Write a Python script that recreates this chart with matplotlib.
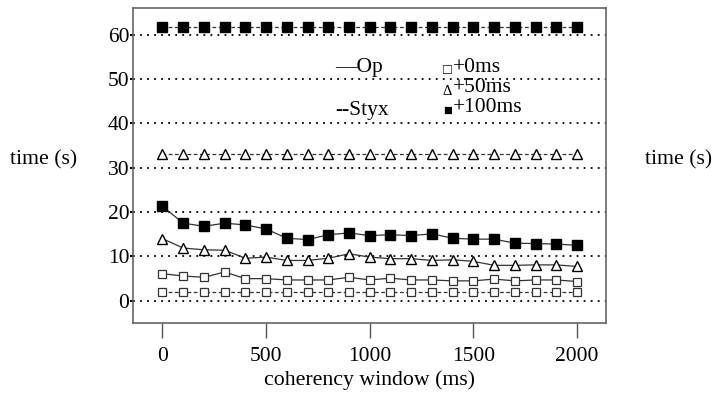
import numpy as np
import matplotlib
matplotlib.use('Agg')
import matplotlib.pyplot as plt

plt.rcParams['font.family'] = ['Liberation Serif', 'DejaVu Serif']

# coherency window (ms)
window = np.arange(0, 2001, 100)

# Op (solid lines)
op_0 = [6.1, 5.6, 5.3, 6.5, 5.0, 5.0, 4.7, 4.7, 4.7, 5.3, 4.7, 5.1, 4.7, 4.7, 4.5, 4.5, 4.9, 4.5, 4.7, 4.7, 4.35]
op_50 = [14.0, 11.9, 11.5, 11.4, 9.6, 9.85, 9.1, 9.1, 9.6, 10.6, 9.85, 9.5, 9.5, 9.1, 9.25, 8.9, 8.0, 8.0, 8.1, 8.1, 7.75]
op_100 = [21.3, 17.5, 16.8, 17.5, 17.1, 16.2, 14.1, 13.8, 14.9, 15.3, 14.7, 14.9, 14.7, 15.1, 14.1, 13.9, 13.9, 13.0, 12.9, 12.8, 12.5]

# Styx (dashed lines)
styx_0 = [2.0] * 21
styx_50 = [33.0] * 21
styx_100 = [61.8] * 21

fig = plt.figure(figsize=(7.27, 3.98), dpi=100)
ax = fig.add_axes([0.1836, 0.1884, 0.65, 0.7916])

for y in range(0, 61, 10):
    ax.axhline(y, color='black', linestyle=(0, (1, 2.9)), linewidth=1.3, zorder=1)

line_kw = dict(color='#333333', linewidth=0.9, zorder=3)
open_sq = dict(marker='s', markersize=6.3, markerfacecolor='white', markeredgecolor='#333333', markeredgewidth=0.9)
tri = dict(marker='^', markersize=7.5, markerfacecolor='white', markeredgecolor='black', markeredgewidth=1.0)
full_sq = dict(marker='s', markersize=7, markerfacecolor='black', markeredgecolor='black')

ax.plot(window, op_0, **open_sq, **line_kw)
ax.plot(window, op_50, **tri, **line_kw)
ax.plot(window, op_100, **full_sq, **line_kw)

dash = (0, (3, 2))
ax.plot(window, styx_0, linestyle=dash, **open_sq, **line_kw)
ax.plot(window, styx_50, linestyle=dash, **tri, **line_kw)
ax.plot(window, styx_100, linestyle=dash, **full_sq, **line_kw)

ax.set_xlim(-140, 2140)
ax.set_ylim(-5, 66)
ax.set_xticks([0, 500, 1000, 1500, 2000])
ax.set_yticks([0, 10, 20, 30, 40, 50, 60])
ax.tick_params(axis='x', direction='out', length=11, width=1, color='#555555', labelsize=15.5, pad=6)
ax.tick_params(axis='y', direction='out', length=2, width=1.5, labelsize=15.5, pad=1)
for s in ax.spines.values():
    s.set_color('#666666')
    s.set_linewidth(1.2)

ax.set_xlabel('coherency window (ms)', fontsize=15.7, labelpad=3)

fig.text(10 / 727, 1 - 160 / 398, 'time (s)', fontsize=15.7, va='center', ha='left')
fig.text(645 / 727, 1 - 160 / 398, 'time (s)', fontsize=15.7, va='center', ha='left')

# text legend
fs = 15.5
ax.text(0.426, 0.81, '\u2014Op', transform=ax.transAxes, fontsize=fs, va='center')
ax.text(0.426, 0.676, '--Styx', transform=ax.transAxes, fontsize=fs, va='center')
sym_x = 0.655
lab_x = 0.676
for yy, sym, lab in [(0.81, '\u25a1', '+0ms'), (0.746, '\u0394', '+50ms'), (0.683, '\u25a0', '+100ms')]:
    ax.text(sym_x, yy - 0.01, sym, transform=ax.transAxes, fontsize=10.5, va='center')
    ax.text(lab_x, yy, lab, transform=ax.transAxes, fontsize=fs, va='center')

fig.savefig('out.png', dpi=100)
